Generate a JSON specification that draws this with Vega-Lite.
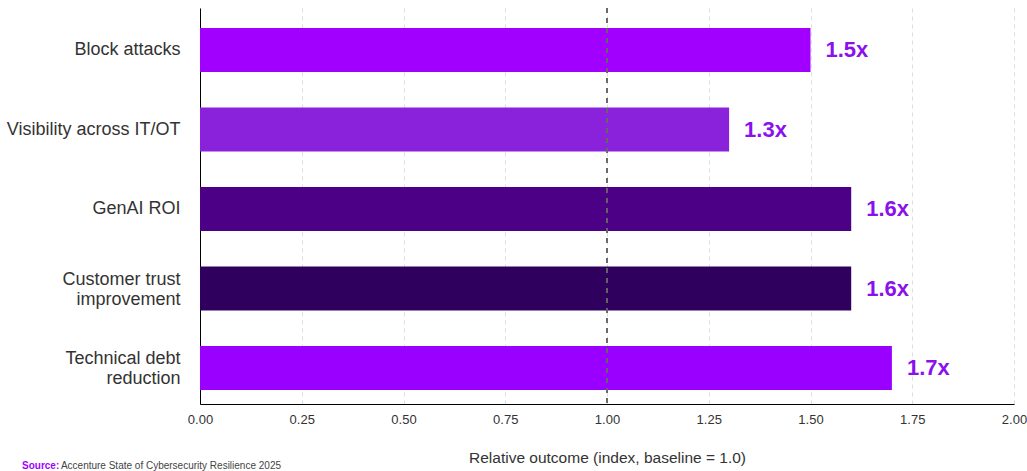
{
  "$schema": "https://vega.github.io/schema/vega-lite/v6.json",
  "width": 814,
  "height": 396,
  "autosize": {"type": "none"},
  "padding": {"left": 200, "top": 8, "right": 13, "bottom": 67},
  "background": "white",
  "config": {
    "font": "Liberation Sans",
    "view": {"stroke": null}
  },
  "title": {
    "text": "Source:",
    "subtitle": "\u200b\u00a0\u00a0\u00a0\u00a0\u00a0\u00a0\u00a0\u00a0\u00a0\u00a0\u00a0\u00a0\u00a0\u00a0Accenture State of Cybersecurity Resilience 2025",
    "orient": "bottom",
    "anchor": "start",
    "frame": "group",
    "dx": -178,
    "offset": -5,
    "fontSize": 10,
    "fontWeight": "bold",
    "color": "#A100FF",
    "subtitleFontSize": 10,
    "subtitleColor": "#444444",
    "subtitlePadding": -10
  },
  "data": {
    "values": [
      {"outcome": "Block attacks", "value": 1.5, "label": "1.5x", "color": "#A100FF"},
      {"outcome": "Visibility across IT/OT", "value": 1.3, "label": "1.3x", "color": "#8A22DC"},
      {"outcome": "GenAI ROI", "value": 1.6, "label": "1.6x", "color": "#4B0085"},
      {"outcome": "Customer trust|improvement", "value": 1.6, "label": "1.6x", "color": "#30005E"},
      {"outcome": "Technical debt|reduction", "value": 1.7, "label": "1.7x", "color": "#9A00FF"}
    ]
  },
  "layer": [
    {
      "mark": {"type": "bar"},
      "encoding": {
        "y": {
          "field": "outcome",
          "type": "nominal",
          "sort": null,
          "scale": {"paddingInner": 0.446, "paddingOuter": 0.214, "align": 0.59},
          "axis": {
            "title": null,
            "labelExpr": "split(datum.label, '|')",
            "labelFontSize": 18,
            "labelLineHeight": 20,
            "labelColor": "#333333",
            "labelPadding": 20,
            "labelOffset": {"condition": {"test": "indexof(datum.label, '|') >= 0", "value": -9}, "value": 0},
            "ticks": false,
            "domain": true,
            "domainColor": "#000000",
            "domainWidth": 1,
            "grid": false
          }
        },
        "x": {
          "field": "value",
          "type": "quantitative",
          "scale": {"domain": [0, 2]},
          "axis": {
            "title": "Relative outcome (index, baseline = 1.0)",
            "titleFontSize": 15.5,
            "titleFontWeight": "normal",
            "titleColor": "#333333",
            "titlePadding": 24,
            "values": [0, 0.25, 0.5, 0.75, 1, 1.25, 1.5, 1.75, 2],
            "format": ".2f",
            "labelFontSize": 13,
            "labelColor": "#333333",
            "labelPadding": 9,
            "labelFlush": false,
            "ticks": false,
            "domainColor": "#000000",
            "domainWidth": 1,
            "grid": true,
            "gridColor": "#dddddd",
            "gridDash": [4, 4],
            "gridWidth": 1
          }
        },
        "color": {"field": "color", "type": "nominal", "scale": null}
      }
    },
    {
      "mark": {"type": "rule", "color": "#666666", "strokeDash": [5, 5], "strokeWidth": 1},
      "encoding": {"x": {"datum": 1}}
    },
    {
      "mark": {"type": "text", "align": "left", "baseline": "middle", "dx": 15, "fontSize": 22, "fontWeight": "bold", "color": "#8A10EE"},
      "encoding": {
        "y": {"field": "outcome", "type": "nominal", "sort": null},
        "x": {"field": "value", "type": "quantitative"},
        "text": {"field": "label"}
      }
    }
  ]
}
